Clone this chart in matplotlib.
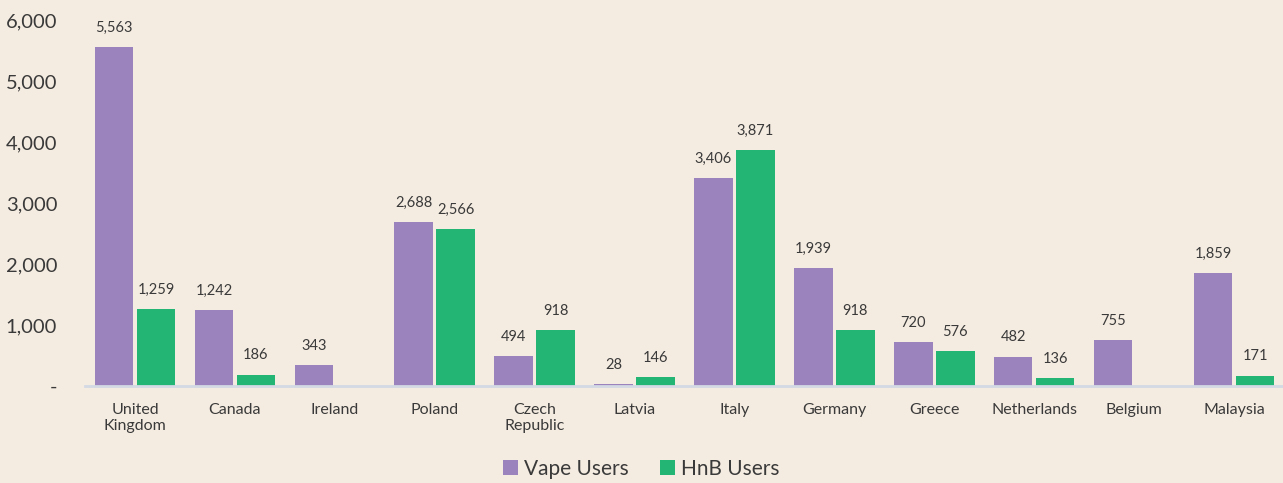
import matplotlib
matplotlib.use("Agg")
import matplotlib.pyplot as plt
import numpy as np

countries = ["United\nKingdom", "Canada", "Ireland", "Poland", "Czech\nRepublic", "Latvia",
             "Italy", "Germany", "Greece", "Netherlands", "Belgium", "Malaysia"]
vape_users = [5563, 1242, 343, 2688, 494, 28, 3406, 1939, 720, 482, 755, 1859]
hnb_users = [1259, 186, None, 2566, 918, 146, 3871, 918, 576, 136, None, 171]

BG = "#F5ECE1"
PURPLE = "#9B84BE"
GREEN = "#22B573"
TEXT = "#3A3A3A"

plt.rcParams["font.family"] = ["Lato", "DejaVu Sans"]

fig = plt.figure(figsize=(12.83, 4.83), dpi=100, facecolor=BG)
ax = fig.add_axes([85 / 1283, 1 - 386 / 483, (1284 - 85) / 1283, (386 - 20) / 483])
ax.set_facecolor(BG)

x = np.arange(len(countries))
w = 0.385
off = 0.21
hnb_vals = [v if v is not None else 0 for v in hnb_users]

b1 = ax.bar(x - off, vape_users, w, color=PURPLE, label="Vape Users")
b2 = ax.bar(x + off, hnb_vals, w, color=GREEN, label="HnB Users")

for xi, v in zip(x, vape_users):
    ax.text(xi - off, v + 200, f"{v:,}", ha="center", va="bottom", fontsize=10.5, color=TEXT)
for xi, v in zip(x, hnb_users):
    if v is not None:
        ax.text(xi + off, v + 200, f"{v:,}", ha="center", va="bottom", fontsize=10.5, color=TEXT)

ax.set_xlim(-0.5, len(countries) - 0.5)
ax.set_ylim(0, 6000)
ax.set_yticks([0, 1000, 2000, 3000, 4000, 5000, 6000])
ax.set_yticklabels(["-", "1,000", "2,000", "3,000", "4,000", "5,000", "6,000"])
ax.set_xticks(x)
ax.set_xticklabels(countries, fontsize=11.5, color=TEXT, linespacing=1.2)
ax.tick_params(axis="y", labelsize=14.5, colors=TEXT, length=0, pad=20)
ax.tick_params(axis="x", length=0, pad=12)

for s in ["top", "right", "left"]:
    ax.spines[s].set_visible(False)
ax.spines["bottom"].set_color("#D3DAE4")
ax.spines["bottom"].set_linewidth(2)

fig.legend(handles=[b1, b2], loc="lower center", bbox_to_anchor=(0.5, -0.03), ncol=2,
           frameon=False, fontsize=15, handlelength=0.7, handleheight=0.7,
           handletextpad=0.3, columnspacing=1.5, labelcolor=TEXT)

fig.savefig("out.png", dpi=100, facecolor=BG)
